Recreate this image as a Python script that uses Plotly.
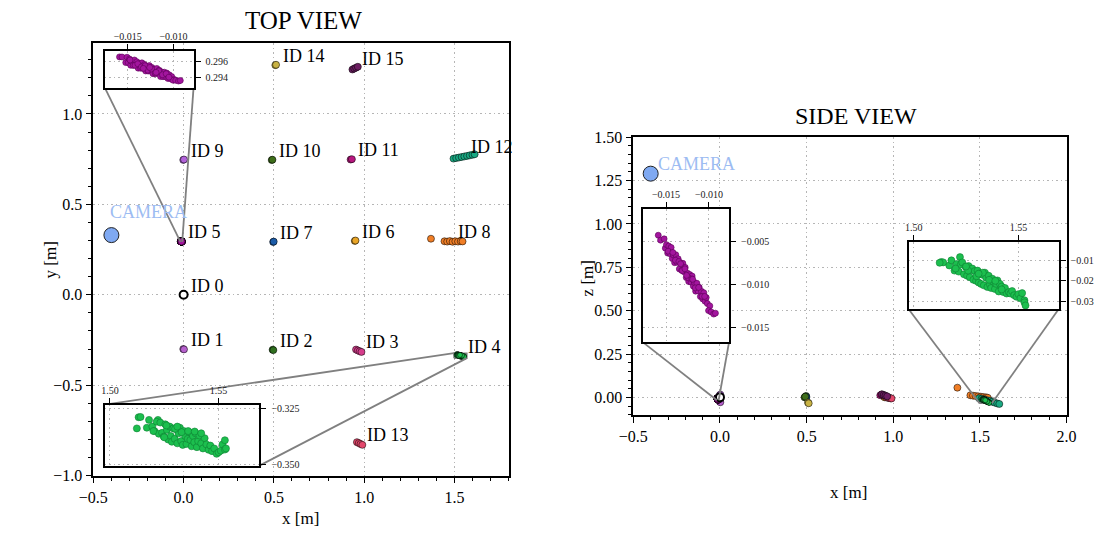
import plotly.graph_objects as go

FONT = "Liberation Serif"

# ---------------- data ----------------
camera_x, camera_y, camera_z = -0.40, 0.33, 1.29

id5_x = [-0.01590, -0.01563, -0.01522, -0.01508, -0.01495, -0.01481, -0.01468, -0.01454, -0.01440, -0.01427,
         -0.01413, -0.01400, -0.01386, -0.01372, -0.01359, -0.01345, -0.01332, -0.01318, -0.01304, -0.01291,
         -0.01277, -0.01264, -0.01250, -0.01236, -0.01223, -0.01209, -0.01196, -0.01182, -0.01168, -0.01155,
         -0.01141, -0.01128, -0.01114, -0.01100, -0.01087, -0.01073, -0.01060, -0.01046, -0.01032, -0.01019,
         -0.00990, -0.01005, -0.00975, -0.00945, -0.00925, -0.01475, -0.01420, -0.01390, -0.01350, -0.01310,
         -0.01280, -0.01240, -0.01200, -0.01160, -0.01120, -0.01080, -0.01050, -0.01330, -0.01260, -0.01190]
id5_y = [0.29650, 0.29649, 0.29582, 0.29646, 0.29581, 0.29625, 0.29550, 0.29594, 0.29548, 0.29613,
         0.29557, 0.29592, 0.29516, 0.29570, 0.29515, 0.29579, 0.29514, 0.29558, 0.29482, 0.29527,
         0.29481, 0.29546, 0.29480, 0.29524, 0.29449, 0.29503, 0.29448, 0.29512, 0.29456, 0.29491,
         0.29415, 0.29470, 0.29414, 0.29468, 0.29413, 0.29457, 0.29392, 0.29436, 0.29390, 0.29415,
         0.29380, 0.29372, 0.29370, 0.29362, 0.29368, 0.29613, 0.29550, 0.29568, 0.29531, 0.29545,
         0.29492, 0.29506, 0.29459, 0.29483, 0.29437, 0.29450, 0.29408, 0.29513, 0.29524, 0.29465]
id5_z = [-0.00430, -0.00487, -0.00472, -0.00580, -0.00539, -0.00637, -0.00556, -0.00644, -0.00572, -0.00701,
         -0.00659, -0.00748, -0.00656, -0.00744, -0.00703, -0.00821, -0.00750, -0.00838, -0.00756, -0.00855,
         -0.00803, -0.00922, -0.00870, -0.00968, -0.00887, -0.00975, -0.00904, -0.01022, -0.00980, -0.01079,
         -0.00987, -0.01076, -0.01034, -0.01142, -0.01081, -0.01169, -0.01098, -0.01196, -0.01154, -0.01223,
         -0.01250, -0.01305, -0.01320, -0.01345, -0.01335, -0.00615, -0.00630, -0.00720, -0.00735, -0.00839,
         -0.00820, -0.00924, -0.00938, -0.01041, -0.01036, -0.01140, -0.01140, -0.00761, -0.00896, -0.00941]

id4_x = [1.5132, 1.5141, 1.5124, 1.5170, 1.5221, 1.5180, 1.5195, 1.5205, 1.5215, 1.5225,
         1.5232, 1.5240, 1.5248, 1.5255, 1.5262, 1.5268, 1.5275, 1.5280, 1.5285, 1.5292,
         1.5298, 1.5305, 1.5310, 1.5316, 1.5322, 1.5328, 1.5335, 1.5340, 1.5346, 1.5352,
         1.5358, 1.5364, 1.5370, 1.5376, 1.5382, 1.5388, 1.5394, 1.5400, 1.5406, 1.5412,
         1.5420, 1.5428, 1.5436, 1.5444, 1.5454, 1.5462, 1.5470, 1.5480, 1.5491, 1.5500,
         1.5510, 1.5518, 1.5529, 1.5529, 1.5534, 1.5200, 1.5260, 1.5300, 1.5330, 1.5360,
         1.5390, 1.5420, 1.5250, 1.5310]
id4_y = [-0.3288, -0.3287, -0.3338, -0.3335, -0.3300, -0.3300, -0.3330, -0.3350, -0.3308, -0.3362,
         -0.3312, -0.3358, -0.3375, -0.3320, -0.3345, -0.3388, -0.3330, -0.3372, -0.3398, -0.3338,
         -0.3385, -0.3342, -0.3405, -0.3360, -0.3335, -0.3395, -0.3412, -0.3350, -0.3372, -0.3408,
         -0.3385, -0.3355, -0.3390, -0.3418, -0.3372, -0.3400, -0.3360, -0.3422, -0.3395, -0.3370,
         -0.3405, -0.3428, -0.3382, -0.3410, -0.3434, -0.3415, -0.3440, -0.3428, -0.3452, -0.3445,
         -0.3438, -0.3410, -0.3391, -0.3433, -0.3428, -0.3350, -0.3325, -0.3340, -0.3355, -0.3350,
         -0.3352, -0.3360, -0.3378, -0.3330]
id4_z = [-0.0108, -0.0110, -0.0112, -0.0125, -0.0084, -0.0100, -0.0150, -0.0118, -0.0155, -0.0120,
         -0.0110, -0.0168, -0.0132, -0.0175, -0.0128, -0.0182, -0.0148, -0.0140, -0.0195, -0.0152,
         -0.0200, -0.0150, -0.0208, -0.0165, -0.0215, -0.0170, -0.0222, -0.0160, -0.0185, -0.0230,
         -0.0175, -0.0218, -0.0235, -0.0190, -0.0205, -0.0240, -0.0215, -0.0198, -0.0252, -0.0215,
         -0.0228, -0.0255, -0.0235, -0.0262, -0.0255, -0.0262, -0.0250, -0.0270, -0.0278, -0.0265,
         -0.0285, -0.0260, -0.0295, -0.0305, -0.0320, -0.0140, -0.0150, -0.0178, -0.0160, -0.0195,
         -0.0200, -0.0242, -0.0130, -0.0165]

tag_ids = [0, 1, 2, 3, 6, 7, 8, 9, 10, 11, 12, 13, 14, 15]
tag_x = [[0.0], [-0.002, 0.002], [0.493, 0.497], [0.955, 0.965, 0.975, 0.985], [0.948, 0.952],
         [0.496, 0.499], [1.370, 1.445, 1.460, 1.475, 1.490, 1.505, 1.520, 1.535, 1.545],
         [-0.002, 0.002], [0.488, 0.492], [0.925, 0.932],
         [1.495, 1.510, 1.525, 1.540, 1.555, 1.570, 1.585, 1.600, 1.612],
         [0.960, 0.970, 0.980, 0.990], [0.508, 0.512], [0.935, 0.945, 0.955, 0.965]]
tag_y = [[0.0], [-0.300, -0.302], [-0.304, -0.306], [-0.303, -0.308, -0.312, -0.316], [0.298, 0.300],
         [0.292, 0.294], [0.310, 0.296, 0.294, 0.297, 0.293, 0.296, 0.294, 0.296, 0.295],
         [0.746, 0.748], [0.745, 0.747], [0.748, 0.750],
         [0.753, 0.756, 0.759, 0.762, 0.765, 0.768, 0.771, 0.774, 0.777],
         [-0.815, -0.820, -0.825, -0.830], [1.270, 1.272], [1.246, 1.251, 1.256, 1.261]]
tag_z = [[0.0], [-0.024, -0.028], [0.004, 0.008], [0.005, 0.0, -0.003, -0.006], [0.002, 0.0],
         [0.0, 0.002], [0.056, 0.012, 0.010, 0.008, 0.006, 0.004, 0.002, 0.0, -0.002],
         [0.012, 0.016], [0.0, 0.004], [0.012, 0.016],
         [-0.005, -0.008, -0.012, -0.016, -0.020, -0.025, -0.030, -0.035, -0.038],
         [0.0, -0.002, -0.004, -0.006], [-0.030, -0.034], [0.018, 0.014, 0.010, 0.006]]

top5_xticks, top5_yticks = [-0.015, -0.010], [0.294, 0.296]
top4_xticks, top4_yticks = [1.50, 1.55], [-0.350, -0.325]
side5_xticks, side5_yticks = [-0.015, -0.010], [-0.015, -0.010, -0.005]
side4_xticks, side4_yticks = [1.50, 1.55], [-0.03, -0.02, -0.01]

# ---------------- style ----------------
tag_colors = {0: "#ffffff", 1: "#b660cd", 2: "#2f6f1f", 3: "#d63d8c", 4: "#1cbf4e", 5: "#a3159e",
              6: "#e9a527", 7: "#1c5ca8", 8: "#f07e26", 9: "#b162d9", 10: "#3e6e1a", 11: "#b8177f",
              12: "#19a982", 13: "#e3476b", 14: "#c9b344", 15: "#6d1e62"}

# screen placement of the page inside the photographed frame
OX, OY, SW, SH = 13.5, 7.5, 1079.0, 520.0


def sx(px):
    return (px - OX) / SW


def sy(py):
    return 1 - (py - OY) / SH


TOP_DOM_PX = (92, 508, 43, 476)
SIDE_DOM_PX = (633, 1067, 137, 415)
TOP_XR, TOP_YR = [-0.5, 1.8], [-1.0, 1.39]
SIDE_XR, SIDE_YR = [-0.5, 2.0], [-0.1, 1.5]

TOP5_BOX, TOP5_XR, TOP5_YR = (-0.436, 0.055, 1.144, 1.348), [-0.0175, -0.0078], [0.2928, 0.2972]
TOP4_BOX, TOP4_XR, TOP4_YR = (-0.436, 0.420, -0.945, -0.608), [1.4977, 1.5688], [-0.3505, -0.3232]
SIDE5_BOX, SIDE5_XR, SIDE5_YR = (-0.444, 0.052, 0.317, 1.085), [-0.01767, -0.00767], [-0.01674, -0.00128]
SIDE4_BOX, SIDE4_XR, SIDE4_YR = (1.089, 1.954, 0.508, 0.894), [1.4976, 1.5692], [-0.0339, -0.0012]


def dom_from_px(d):
    x0, x1, ytop, ybot = d
    return [sx(x0), sx(x1)], [sy(ybot), sy(ytop)]


TOP_XD, TOP_YD = dom_from_px(TOP_DOM_PX)
SIDE_XD, SIDE_YD = dom_from_px(SIDE_DOM_PX)


def inset_dom(box, xr, yr, xd, yd):
    bx0, bx1, by0, by1 = box
    fx = lambda v: xd[0] + (v - xr[0]) / (xr[1] - xr[0]) * (xd[1] - xd[0])
    fy = lambda v: yd[0] + (v - yr[0]) / (yr[1] - yr[0]) * (yd[1] - yd[0])
    return [fx(bx0), fx(bx1)], [fy(by0), fy(by1)]


fig = go.Figure()


def dots(x, y, color, xa, ya, size=7, edge="rgba(0,0,0,0.75)", lw=0.7):
    fig.add_trace(go.Scatter(x=x, y=y, mode="markers", xaxis=xa, yaxis=ya, showlegend=False,
                             hoverinfo="skip",
                             marker=dict(size=size, color=color, line=dict(color=edge, width=lw))))


def region(xr, yr, xa, ya):
    fig.add_trace(go.Scatter(x=[xr[0], xr[1], xr[1], xr[0], xr[0]], y=[yr[0], yr[0], yr[1], yr[1], yr[0]],
                             mode="lines", fill="toself", fillcolor="#8c8c8c",
                             line=dict(color="#808080", width=1.5), xaxis=xa, yaxis=ya,
                             showlegend=False, hoverinfo="skip"))


def connectors(pairs, xa, ya):
    xs, ys = [], []
    for (a, b) in pairs:
        xs += [a[0], b[0], None]
        ys += [a[1], b[1], None]
    fig.add_trace(go.Scatter(x=xs, y=ys, mode="lines", line=dict(color="#808080", width=1.8),
                             xaxis=xa, yaxis=ya, showlegend=False, hoverinfo="skip"))


region(TOP5_XR, TOP5_YR, "x", "y")
region(TOP4_XR, TOP4_YR, "x", "y")
region(SIDE5_XR, SIDE5_YR, "x2", "y2")
region(SIDE4_XR, SIDE4_YR, "x2", "y2")

for tid, xs, ys, zs in zip(tag_ids, tag_x, tag_y, tag_z):
    if tid == 0:
        continue
    dots(xs, ys, tag_colors[tid], "x", "y")
    dots(xs, zs, tag_colors[tid], "x2", "y2")
dots(id5_x, id5_y, tag_colors[5], "x", "y")
dots(id5_x, id5_z, tag_colors[5], "x2", "y2")
dots(id4_x, id4_y, tag_colors[4], "x", "y", size=5)
dots(id4_x, id4_z, tag_colors[4], "x2", "y2", size=5)
dots(tag_x[0], tag_y[0], "#ffffff", "x", "y", size=8, edge="black", lw=2)
dots(tag_x[0], tag_z[0], "#ffffff", "x2", "y2", size=8, edge="black", lw=2)
dots([camera_x], [camera_y], "#7fa9f2", "x", "y", size=15, edge="#222", lw=1)
dots([camera_x], [camera_z], "#7fa9f2", "x2", "y2", size=15, edge="#222", lw=1)

connectors([((TOP5_BOX[0], TOP5_BOX[2]), (TOP5_XR[0], TOP5_YR[0])),
            ((TOP5_BOX[1], TOP5_BOX[2]), (TOP5_XR[1], TOP5_YR[0]))], "x", "y")
connectors([((TOP4_BOX[0], TOP4_BOX[3]), (TOP4_XR[0], TOP4_YR[1])),
            ((TOP4_BOX[1], TOP4_BOX[2]), (TOP4_XR[1], TOP4_YR[0]))], "x", "y")
connectors([((SIDE5_BOX[0], SIDE5_BOX[2]), (SIDE5_XR[0], SIDE5_YR[0])),
            ((SIDE5_BOX[1], SIDE5_BOX[2]), (SIDE5_XR[1], SIDE5_YR[0]))], "x2", "y2")
connectors([((SIDE4_BOX[0], SIDE4_BOX[2]), (SIDE4_XR[0], SIDE4_YR[0])),
            ((SIDE4_BOX[1], SIDE4_BOX[2]), (SIDE4_XR[1], SIDE4_YR[0]))], "x2", "y2")

dots(id5_x, id5_y, tag_colors[5], "x3", "y3", size=6, edge="#5c0058", lw=0.6)
dots(id4_x, id4_y, tag_colors[4], "x4", "y4", size=7, edge="#0d7f33", lw=0.6)
dots(id5_x, id5_z, tag_colors[5], "x5", "y5", size=6, edge="#5c0058", lw=0.6)
dots(id4_x, id4_z, tag_colors[4], "x6", "y6", size=7, edge="#0d7f33", lw=0.6)

# ---------------- layout ----------------
GRID_DASH = "1.5px,3px"
main_ax = dict(showline=True, mirror=True, linecolor="black", linewidth=1.6, ticks="outside", ticklen=6,
               tickwidth=1.4, tickcolor="black", showgrid=True, gridcolor="#b5b5b5", griddash=GRID_DASH,
               gridwidth=1.4, zeroline=False, tickfont=dict(size=16, color="black", family=FONT))
minor = lambda d: dict(ticks="outside", ticklen=3.5, tickwidth=1.1, tickcolor="black", dtick=d, showgrid=False)
inset_ax = dict(showline=True, mirror=True, linecolor="black", linewidth=2, ticks="outside", ticklen=5,
                tickwidth=1.4, tickcolor="black", showgrid=True, gridcolor="#b5b5b5", griddash=GRID_DASH,
                gridwidth=1.3, zeroline=False, tickfont=dict(size=10, color="#222", family=FONT),
                tickmode="array")


def lbl(vals, nd):
    return [("\u2212" if v < 0 else "") + f"{abs(v):.{nd}f}" for v in vals]


t5x, t5y = inset_dom(TOP5_BOX, TOP_XR, TOP_YR, TOP_XD, TOP_YD)
t4x, t4y = inset_dom(TOP4_BOX, TOP_XR, TOP_YR, TOP_XD, TOP_YD)
s5x, s5y = inset_dom(SIDE5_BOX, SIDE_XR, SIDE_YR, SIDE_XD, SIDE_YD)
s4x, s4y = inset_dom(SIDE4_BOX, SIDE_XR, SIDE_YR, SIDE_XD, SIDE_YD)

layout = dict(
    autosize=True, margin=dict(l=0, r=0, t=0, b=0), paper_bgcolor="white", plot_bgcolor="white",
    font=dict(family=FONT, color="black"), showlegend=False,
    xaxis=dict(main_ax, domain=TOP_XD, range=TOP_XR, anchor="y", dtick=0.5, tickformat=".1f", minor=minor(0.1)),
    yaxis=dict(main_ax, domain=TOP_YD, range=TOP_YR, anchor="x", dtick=0.5, tickformat=".1f", minor=minor(0.1)),
    xaxis2=dict(main_ax, domain=SIDE_XD, range=SIDE_XR, anchor="y2", dtick=0.5, tickformat=".1f", minor=minor(0.1)),
    yaxis2=dict(main_ax, domain=SIDE_YD, range=SIDE_YR, anchor="x2", dtick=0.25, tickformat=".2f", minor=minor(0.05)),
    xaxis3=dict(inset_ax, domain=t5x, range=TOP5_XR, anchor="y3", side="top",
                tickvals=top5_xticks, ticktext=lbl(top5_xticks, 3)),
    yaxis3=dict(inset_ax, domain=t5y, range=TOP5_YR, anchor="x3", side="right", ticklabelstandoff=3,
                tickvals=top5_yticks, ticktext=lbl(top5_yticks, 3)),
    xaxis4=dict(inset_ax, domain=t4x, range=TOP4_XR, anchor="y4", side="top",
                tickvals=top4_xticks, ticktext=lbl(top4_xticks, 2)),
    yaxis4=dict(inset_ax, domain=t4y, range=TOP4_YR, anchor="x4", side="right", ticklabelstandoff=3,
                tickvals=top4_yticks, ticktext=lbl(top4_yticks, 3)),
    xaxis5=dict(inset_ax, domain=s5x, range=SIDE5_XR, anchor="y5", side="top",
                tickvals=side5_xticks, ticktext=lbl(side5_xticks, 3)),
    yaxis5=dict(inset_ax, domain=s5y, range=SIDE5_YR, anchor="x5", side="right", ticklabelstandoff=3,
                tickvals=side5_yticks, ticktext=lbl(side5_yticks, 3)),
    xaxis6=dict(inset_ax, domain=s4x, range=SIDE4_XR, anchor="y6", side="top",
                tickvals=side4_xticks, ticktext=lbl(side4_xticks, 2)),
    yaxis6=dict(inset_ax, domain=s4y, range=SIDE4_YR, anchor="x6", side="right", ticklabelstandoff=3,
                tickvals=side4_yticks, ticktext=lbl(side4_yticks, 2)),
)
fig.update_layout(**layout)


def ptxt(text, px, py, size, angle=0, color="black"):
    fig.add_annotation(text=text, x=sx(px), y=sy(py), xref="paper", yref="paper", showarrow=False,
                       xanchor="center", yanchor="middle", textangle=angle,
                       font=dict(size=size, color=color, family=FONT))


ptxt("TOP VIEW", 303, 20, 25)
ptxt("SIDE VIEW", 856, 116, 24)
ptxt("x [m]", 300, 519, 17)
ptxt("x [m]", 849, 493, 17)
ptxt("y [m]", 49, 260, 17, angle=-90)
ptxt("z [m]", 588, 278, 17, angle=-90)

label_sets = list(zip(tag_ids, tag_x, tag_y)) + [(4, id4_x, id4_y), (5, id5_x, id5_y)]
for tid, xs, ys in label_sets:
    mx, my = sum(xs) / len(xs), sum(ys) / len(ys)
    fig.add_annotation(text=f"ID {tid}", x=mx, y=my, xref="x", yref="y", showarrow=False,
                       xanchor="left", yanchor="bottom", xshift=5, yshift=-3,
                       font=dict(size=18, color="black", family=FONT))

fig.add_annotation(text="CAMERA", x=camera_x, y=camera_y, xref="x", yref="y", showarrow=False,
                   xanchor="left", yanchor="middle", xshift=-3, yshift=23,
                   font=dict(size=18, color="#9dbcf2", family=FONT))
fig.add_annotation(text="CAMERA", x=camera_x, y=camera_z, xref="x2", yref="y2", showarrow=False,
                   xanchor="left", yanchor="middle", xshift=5, yshift=10,
                   font=dict(size=18, color="#9dbcf2", family=FONT))

fig.write_html(
    "out.html",
    config={"displayModeBar": False, "responsive": True},
    default_width="100vw", default_height="100vh",
    post_script=("document.documentElement.style.margin='0';document.body.style.margin='0';"
                 "document.body.style.overflow='hidden';"
                 "Plotly.Plots.resize(document.getElementById('{plot_id}'));"),
)
